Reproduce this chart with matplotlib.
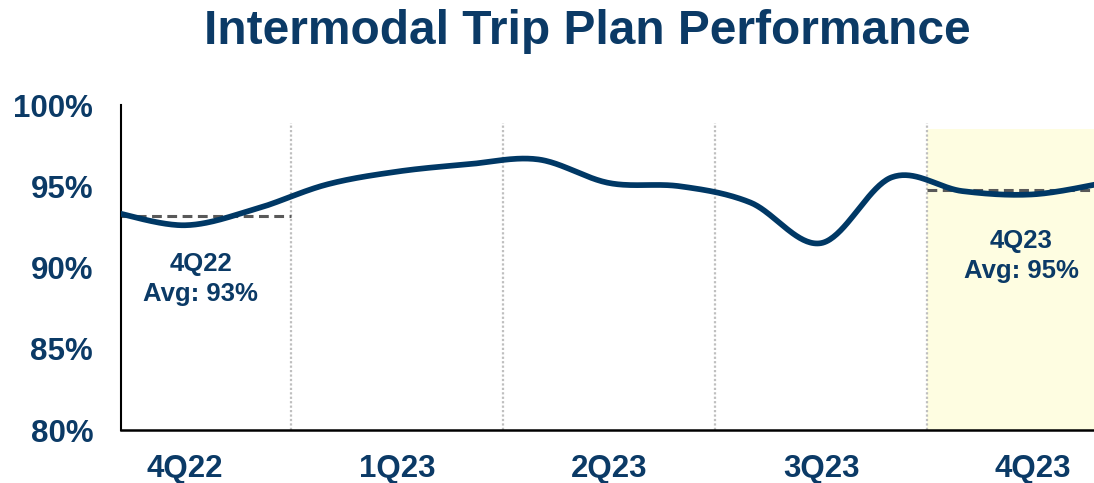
import numpy as np
import matplotlib
matplotlib.use("Agg")
import matplotlib.pyplot as plt

plt.rcParams['font.family'] = ['Liberation Sans', 'DejaVu Sans']

# Monthly trip plan performance (%), Oct 2022 .. Dec 2023
months = ["Oct 22", "Nov 22", "Dec 22", "Jan 23", "Feb 23", "Mar 23", "Apr 23",
          "May 23", "Jun 23", "Jul 23", "Aug 23", "Sep 23", "Oct 23", "Nov 23", "Dec 23"]
performance = [93.4, 92.6, 93.6, 95.1, 95.9, 96.35, 96.65, 95.2, 95.0, 94.0,
               91.5, 95.55, 94.7, 94.5, 95.2]
quarters = ["4Q22", "1Q23", "2Q23", "3Q23", "4Q23"]
y_ticks = [80, 85, 90, 95, 100]

NAVY = "#0B3A66"
LINE = "#003865"

x = np.arange(len(performance), dtype=float)
y = np.array(performance, dtype=float)


def smooth_curve(xs, ys, n=40):
    """Catmull-Rom style smoothing of a polyline (Excel 'smoothed line')."""
    px = np.concatenate([[xs[0]], xs, [xs[-1]]])
    py = np.concatenate([[ys[0]], ys, [ys[-1]]])
    out_x, out_y = [], []
    t = np.linspace(0, 1, n, endpoint=False)
    for i in range(1, len(px) - 2):
        p0, p1, p2, p3 = (np.array([px[j], py[j]]) for j in (i - 1, i, i + 1, i + 2))
        c1 = p1 + (p2 - p0) / 6.0
        c2 = p2 - (p3 - p1) / 6.0
        b = ((1 - t) ** 3)[:, None] * p1 + (3 * (1 - t) ** 2 * t)[:, None] * c1 \
            + (3 * (1 - t) * t ** 2)[:, None] * c2 + (t ** 3)[:, None] * p2
        out_x.append(b[:, 0])
        out_y.append(b[:, 1])
    out_x.append([xs[-1]])
    out_y.append([ys[-1]])
    return np.concatenate(out_x), np.concatenate(out_y)


W, H = 1094, 483
fig = plt.figure(figsize=(W / 100, H / 100), dpi=100)
ax = fig.add_axes([121 / W, 53 / H, (W - 121) / W, 325 / H])

x_left, x_right = 0.095, 13.862
ax.set_xlim(x_left, x_right)
ax.set_ylim(80, 100)

# highlighted current quarter
ax.fill_between([11.5, x_right + 1], 80, 98.5, color="#FEFDE1", zorder=0, lw=0)

# quarter separators
for b in [2.5, 5.5, 8.5, 11.5]:
    ax.plot([b, b], [80, 98.9], color="#BFBFBF", lw=1.6, ls=(0, (1, 1)), zorder=1)

# quarter averages
q4_22 = float(np.mean(y[0:3]))
q4_23 = float(np.mean(y[12:15]))
dash = (0, (3.2, 1.8))
ax.plot([x_left, 2.5], [q4_22, q4_22], color="#595959", lw=2.2, ls=dash, zorder=2)
ax.plot([11.5, x_right + 1], [q4_23, q4_23], color="#595959", lw=2.2, ls=dash, zorder=2)

sx, sy = smooth_curve(x, y)
ax.plot(sx, sy, color=LINE, lw=4.1, solid_capstyle="round", zorder=3)

ax.text(1.22, 89.3, f"4Q22\nAvg: {q4_22:.0f}%", ha="center", va="center",
        fontsize=18.5, fontweight="bold", color=NAVY, linespacing=1.34)
ax.text(12.83, 90.7, f"4Q23\nAvg: {q4_23:.0f}%", ha="center", va="center",
        fontsize=18.5, fontweight="bold", color=NAVY, linespacing=1.34)

ax.set_yticks(y_ticks)
ax.set_yticklabels([f"{v}%" for v in y_ticks])
ax.set_xticks([1, 4, 7, 10, 13])
ax.set_xticklabels(quarters)
ax.tick_params(axis="both", length=0, labelsize=22.5, labelcolor=NAVY)
ax.tick_params(axis="y", pad=20)
ax.tick_params(axis="x", pad=17)
for lbl in ax.get_xticklabels() + ax.get_yticklabels():
    lbl.set_fontweight("bold")

for side in ["top", "right"]:
    ax.spines[side].set_visible(False)
ax.spines["left"].set_linewidth(1.5)
ax.spines["bottom"].set_linewidth(1.8)
ax.patch.set_alpha(0)

fig.text(0.537, 1 - 44.3 / H, "Intermodal Trip Plan Performance", ha="center",
         va="baseline", fontsize=34.5, fontweight="bold", color=NAVY)

fig.savefig("out.png", dpi=100)
